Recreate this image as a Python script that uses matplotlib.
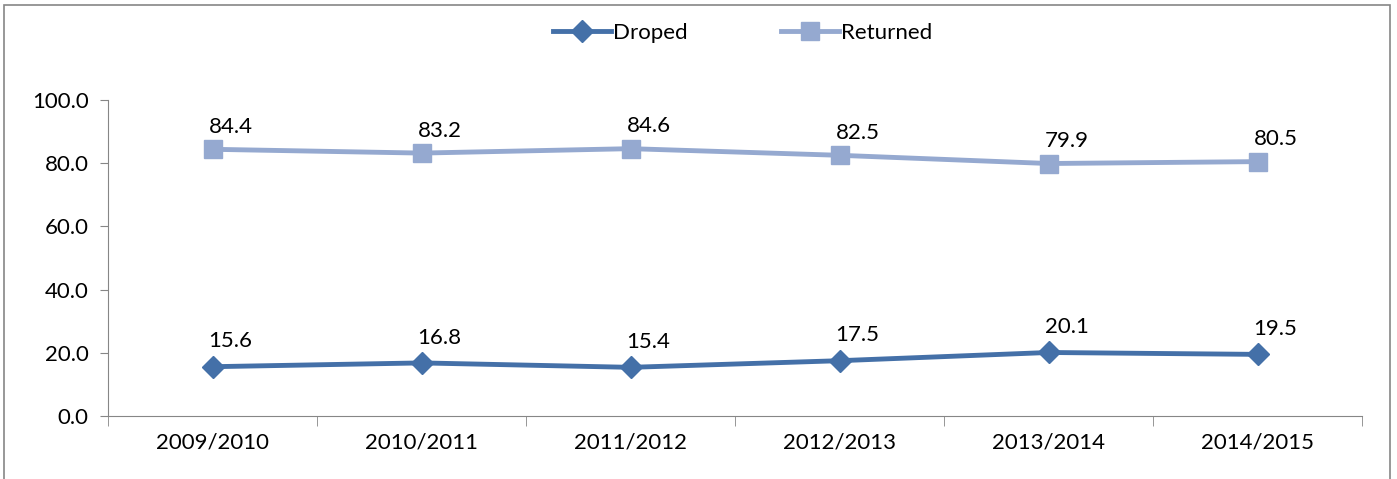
import numpy as np
from matplotlib import pyplot as plt
from matplotlib.patches import Rectangle

years = ["2009/2010", "2010/2011", "2011/2012", "2012/2013", "2013/2014", "2014/2015"]
droped = [15.6, 16.8, 15.4, 17.5, 20.1, 19.5]
returned = [84.4, 83.2, 84.6, 82.5, 79.9, 80.5]

plt.rcParams['font.family'] = ['Lato', 'DejaVu Sans']

fig = plt.figure(figsize=(13.97, 4.79), dpi=100)
ax = fig.add_axes([108/1397, 1 - 416/479, (1362 - 108)/1397, (416 - 100)/479])

x = np.arange(len(years))
ax.plot(x, droped, color='#4470A8', lw=3.5, marker='D', ms=11, label='Droped')
ax.plot(x, returned, color='#95A9D0', lw=3.5, marker='s', ms=13, label='Returned')

for xi, v in zip(x, droped):
    ax.annotate(f"{v:.1f}", (xi, v), xytext=(13, 11), textcoords='offset points',
                ha='center', va='bottom', fontsize=16)
for xi, v in zip(x, returned):
    ax.annotate(f"{v:.1f}", (xi, v), xytext=(13, 9), textcoords='offset points',
                ha='center', va='bottom', fontsize=16)

ax.set_xlim(-0.5, len(years) - 0.5)
ax.set_ylim(0, 100)
ax.set_yticks(np.arange(0, 101, 20))
ax.set_yticklabels([f"{t:.1f}" for t in range(0, 101, 20)], fontsize=16)
ax.set_xticks(x)
ax.set_xticklabels(years, fontsize=16)
ax.set_xticks(np.arange(-0.5, len(years), 1), minor=True)
ax.tick_params(axis='x', which='major', length=0, pad=12)
ax.tick_params(axis='x', which='minor', length=7, color='#868686', direction='out')
ax.tick_params(axis='y', length=6, color='#868686', pad=8)

for s in ['top', 'right']:
    ax.spines[s].set_visible(False)
for s in ['left', 'bottom']:
    ax.spines[s].set_color('#868686')

fig.legend(loc='center', bbox_to_anchor=(743/1397, 1 - 33/479), ncol=2, frameon=False,
           fontsize=16, handlelength=2.6, handletextpad=0.1, columnspacing=4.2)

fig.patches.append(Rectangle((4/1397, -0.1), (1390 - 4)/1397, 1.1 - 5/479,
                             transform=fig.transFigure, fill=False, edgecolor='#868686', lw=1.2))

fig.savefig('out.png', dpi=100)
